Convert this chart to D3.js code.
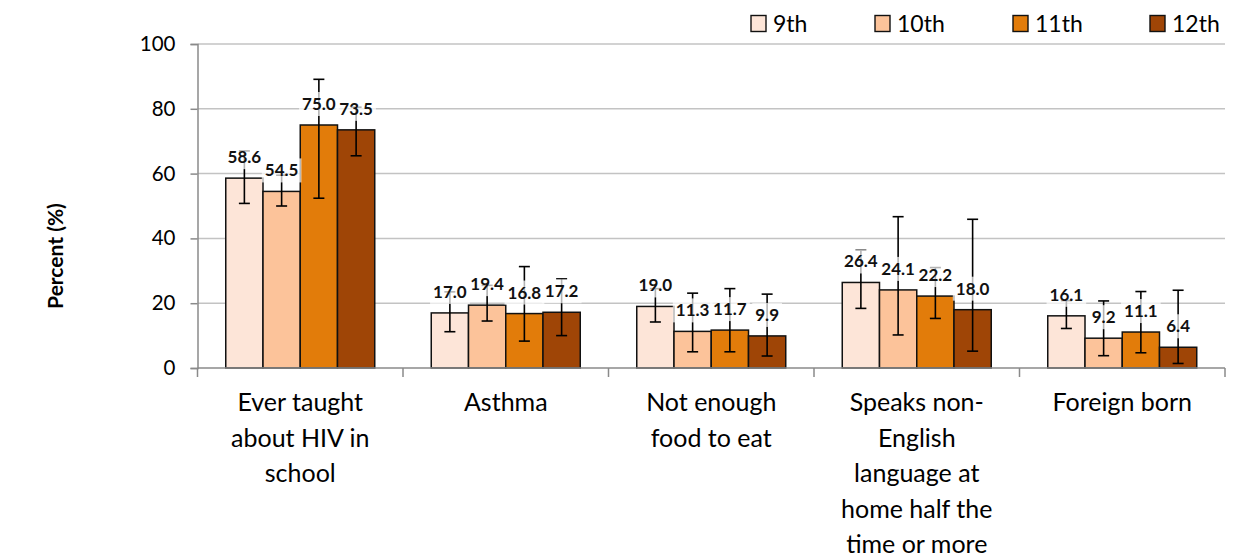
<!DOCTYPE html>
<html><head><meta charset="utf-8">
<script src="https://cdn.jsdelivr.net/npm/d3@7"></script>
<style>body{margin:0;background:#fff}svg{display:block}text{font-family:Lato,"Open Sans",sans-serif}</style>
</head><body><svg id="c" width="1233" height="559"></svg>
<script>
const categories = [
  ["Ever taught", "about HIV in", "school"],
  ["Asthma"],
  ["Not enough", "food to eat"],
  ["Speaks non-", "English", "language at", "home half the", "time or more"],
  ["Foreign born"]
];
const grades = ["9th", "10th", "11th", "12th"];
const colors = ["#FDE5D8", "#FCC39A", "#E27C0A", "#9F4506"];
const values9  = [58.6, 17.0, 19.0, 26.4, 16.1];
const values10 = [54.5, 19.4, 11.3, 24.1, 9.2];
const values11 = [75.0, 16.8, 11.7, 22.2, 11.1];
const values12 = [73.5, 17.2, 9.9, 18.0, 6.4];
const low9  = [50.8, 11.2, 14.2, 18.4, 12.2];
const high9 = [67.0, 23.5, 24.5, 36.4, 20.8];
const low10  = [50.0, 14.5, 5.0, 10.2, 3.8];
const high10 = [59.5, 25.5, 23.1, 46.7, 20.7];
const low11  = [52.4, 8.3, 5.0, 15.3, 4.7];
const high11 = [89.1, 31.3, 24.5, 31.0, 23.6];
const low12  = [65.5, 10.0, 3.7, 5.2, 1.4];
const high12 = [80.5, 27.5, 22.8, 45.9, 24.0];
const yTicks = [0, 20, 40, 60, 80, 100];
const yTitle = "Percent (%)";

const values = [values9, values10, values11, values12];
const lows = [low9, low10, low11, low12];
const highs = [high9, high10, high11, high12];

const svg = d3.select("#c");
const pL = 197.5, pR = 1225, pT = 44, pB = 368;
const catIdx = d3.range(categories.length);
const x0 = d3.scaleBand().domain(catIdx).range([pL, pR]).padding(0);
const bw = x0.bandwidth();
const inner = bw * 0.725;
const x1 = d3.scaleBand().domain(d3.range(grades.length)).range([(bw - inner) / 2, (bw + inner) / 2]).padding(0);
const y = d3.scaleLinear().domain([0, 100]).range([pB, pT]);

// gridlines
svg.append("g").selectAll("line").data(yTicks.filter(d => d > 0)).join("line")
  .attr("x1", pL).attr("x2", pR).attr("y1", d => y(d)).attr("y2", d => y(d))
  .attr("stroke", "#c3c3c3").attr("stroke-width", 1.5);

// y axis
const yAxis = svg.append("g").attr("transform", `translate(${pL},0)`)
  .call(d3.axisLeft(y).tickValues(yTicks).tickSize(7).tickPadding(15));
yAxis.select(".domain").attr("stroke", "#8a8a8a").attr("stroke-width", 1.5);
yAxis.selectAll(".tick line").attr("stroke", "#8a8a8a").attr("stroke-width", 1.5);
yAxis.selectAll(".tick text").attr("font-size", 20.5).attr("fill", "#000").attr("font-family", "Lato");

// bars
const flat = [];
catIdx.forEach(c => grades.forEach((g, s) => flat.push({c, s, v: values[s][c], lo: lows[s][c], hi: highs[s][c]})));
svg.append("g").selectAll("rect").data(flat).join("rect")
  .attr("x", d => x0(d.c) + x1(d.s)).attr("width", x1.bandwidth())
  .attr("y", d => y(d.v)).attr("height", d => y(0) - y(d.v))
  .attr("fill", d => colors[d.s]).attr("stroke", "#111").attr("stroke-width", 1.5);

// x axis
svg.append("line").attr("x1", pL).attr("x2", pR).attr("y1", pB).attr("y2", pB)
  .attr("stroke", "#8a8a8a").attr("stroke-width", 1.5);
svg.append("g").selectAll("line").data(d3.range(categories.length + 1)).join("line")
  .attr("x1", d => pL + d * bw).attr("x2", d => pL + d * bw)
  .attr("y1", pB).attr("y2", pB + 9)
  .attr("stroke", "#8a8a8a").attr("stroke-width", 1.5);

// error bars
const eb = svg.append("g").attr("stroke", "#000").attr("stroke-width", 1.6);
flat.forEach(d => {
  const cx = x0(d.c) + x1(d.s) + x1.bandwidth() / 2;
  eb.append("line").attr("x1", cx).attr("x2", cx).attr("y1", y(d.lo)).attr("y2", y(d.hi));
  eb.append("line").attr("x1", cx - 5.5).attr("x2", cx + 5.5).attr("y1", y(d.lo)).attr("y2", y(d.lo));
  eb.append("line").attr("x1", cx - 5.5).attr("x2", cx + 5.5).attr("y1", y(d.hi)).attr("y2", y(d.hi));
});

// data labels
const lg = svg.append("g");
flat.forEach(d => {
  const cx = x0(d.c) + x1(d.s) + x1.bandwidth() / 2;
  const cy = y(d.v) - 21;
  const t = lg.append("text").attr("x", cx).attr("y", cy + 6).attr("text-anchor", "middle")
    .attr("font-size", 17).attr("font-weight", "bold").attr("fill", "#111").text(d.v.toFixed(1));
  const bb = t.node().getBBox();
  lg.insert("rect", () => t.node()).attr("x", bb.x - 3).attr("y", cy - 12).attr("width", bb.width + 6).attr("height", 24)
    .attr("fill", "#fff").attr("fill-opacity", 0.7);
});

// category labels
catIdx.forEach(c => {
  const cx = x0(c) + bw / 2;
  svg.append("text").attr("text-anchor", "middle").attr("font-size", 25).attr("fill", "#000")
    .selectAll("tspan").data(categories[c]).join("tspan")
    .attr("x", cx).attr("y", (d, i) => 411 + i * 35.5).text(d => d);
});

// y title
svg.append("text").attr("transform", "translate(63,256) rotate(-90)").attr("text-anchor", "middle")
  .attr("font-size", 21).attr("font-weight", "bold").attr("fill", "#000").text(yTitle);

// legend
const legX = [751, 875, 1013, 1150];
const leg = svg.append("g");
grades.forEach((g, i) => {
  leg.append("rect").attr("x", legX[i]).attr("y", 15.5).attr("width", 15).attr("height", 16)
    .attr("fill", colors[i]).attr("stroke", "#111").attr("stroke-width", 1.4);
  leg.append("text").attr("x", legX[i] + 22).attr("y", 32).attr("font-size", 23).attr("fill", "#000").text(g);
});
</script></body></html>
